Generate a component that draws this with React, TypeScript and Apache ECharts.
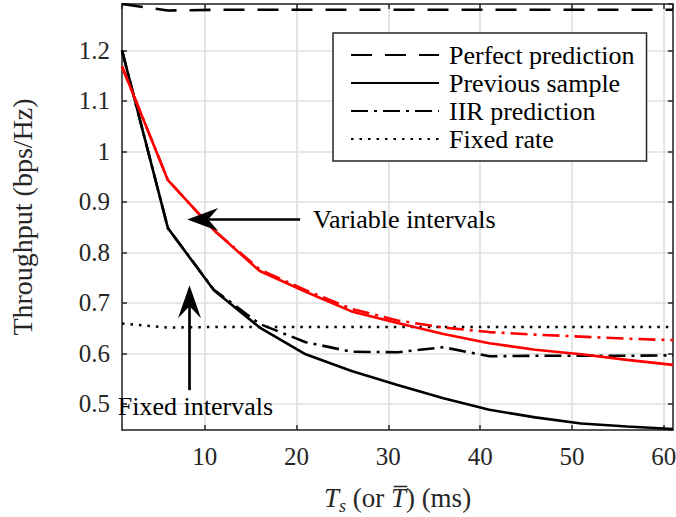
import React, { useEffect, useRef } from 'react';
import * as echarts from 'echarts';

// Sampling period T_s (or mean interval) in ms
const tsValues = [1, 6, 11, 16, 21, 26, 31, 36, 41, 46, 51, 56, 61];

// Fixed intervals (black)
const perfectPrediction = [1.292, 1.279, 1.2805, 1.2805, 1.2805, 1.2805, 1.2805, 1.2805, 1.2805, 1.2805, 1.2805, 1.2805, 1.2805];
const previousSample = [1.2, 0.848, 0.725, 0.651, 0.598, 0.565, 0.537, 0.511, 0.488, 0.473, 0.461, 0.455, 0.45];
const iirPrediction = [1.2, 0.848, 0.726, 0.658, 0.622, 0.603, 0.602, 0.612, 0.594, 0.595, 0.595, 0.595, 0.596];
const fixedRate = [0.659, 0.651, 0.652, 0.652, 0.652, 0.652, 0.652, 0.652, 0.652, 0.652, 0.652, 0.652, 0.652];

// Variable intervals (red)
const varPreviousSample = [1.168, 0.943, 0.844, 0.763, 0.722, 0.683, 0.66, 0.638, 0.62, 0.607, 0.598, 0.587, 0.577];
const varIirPrediction = [1.168, 0.943, 0.844, 0.766, 0.725, 0.688, 0.665, 0.651, 0.642, 0.637, 0.633, 0.629, 0.626];

const legendNames = ['Perfect prediction', 'Previous sample', 'IIR prediction', 'Fixed rate'];

// Annotation anchors (data coordinates)
const variableArrowTail = [20.4, 0.865];
const variableArrowTip = [8.1, 0.865];
const variableLabelPos = [21.8, 0.865];
const fixedArrowTail = [8.35, 0.527];
const fixedArrowTip = [8.35, 0.735];
const fixedLabelPos = [0.55, 0.494];

const X_MIN = 1;
const X_MAX = 61;
const Y_MIN = 0.448;
const Y_MAX = 1.292;

const FONT = 'Liberation Serif';
const AXIS_COLOR = '#262626';

export default function App() {
  const ref = useRef<HTMLDivElement>(null);

  useEffect(() => {
    document.body.style.margin = '0';
    const chart = echarts.init(ref.current!, null, { renderer: 'svg' });
    const pair = (ys: number[]) => tsValues.map((x, i) => [x, ys[i]]);
    const mk = (name: string, ys: number[], color: string, type: any, width: number, z: number) => ({
      type: 'line',
      name,
      data: pair(ys),
      symbol: 'none',
      silent: true,
      z,
      lineStyle: { color, type, width, cap: 'butt' },
      itemStyle: { color },
    });

    const isMultiple = (v: number, step: number) => {
      const r = Math.round(v / step) * step;
      return Math.abs(v - r) < 1e-6;
    };

    chart.setOption({
      animation: false,
      backgroundColor: '#ffffff',
      grid: { left: 122, top: 4, right: 3, bottom: 87, outerBoundsMode: 'none', containLabel: false },
      xAxis: [
        {
          type: 'value',
          min: X_MIN,
          max: X_MAX,
          position: 'bottom',
          name: '{i|T}{s|s} (or {i|T\u0305}) (ms)',
          nameLocation: 'middle',
          nameGap: 51,
          nameTextStyle: {
            fontFamily: FONT,
            fontSize: 27,
            color: AXIS_COLOR,
            lineHeight: 34,
            rich: {
              i: { fontFamily: FONT, fontSize: 27, fontStyle: 'italic', color: AXIS_COLOR, verticalAlign: 'middle' },
              s: { fontFamily: FONT, fontSize: 18, fontStyle: 'italic', color: AXIS_COLOR, verticalAlign: 'bottom' },
            },
          },
          axisLine: { show: true, onZero: false, lineStyle: { color: AXIS_COLOR, width: 1.5 } },
          axisTick: { show: true, inside: true, length: 5, lineStyle: { color: AXIS_COLOR, width: 1.5 } },
          axisLabel: {
            show: true,
            margin: 14,
            fontFamily: FONT,
            fontSize: 25,
            color: AXIS_COLOR,
            showMinLabel: false,
            showMaxLabel: false,
            formatter: (v: number) => (isMultiple(v, 10) ? String(Math.round(v)) : ''),
          },
          splitLine: { show: true, lineStyle: { color: '#e1e1e1', width: 1.7 } },
        },
        {
          type: 'value',
          min: X_MIN,
          max: X_MAX,
          position: 'top',
          axisLine: { show: true, onZero: false, lineStyle: { color: AXIS_COLOR, width: 1.5 } },
          axisTick: { show: true, inside: true, length: 5, lineStyle: { color: AXIS_COLOR, width: 1.5 } },
          axisLabel: { show: false },
          splitLine: { show: false },
        },
      ],
      yAxis: [
        {
          type: 'value',
          min: Y_MIN,
          max: Y_MAX,
          splitNumber: 8,
          position: 'left',
          name: 'Throughput (bps/Hz)',
          nameLocation: 'middle',
          nameGap: 86,
          nameTextStyle: { fontFamily: FONT, fontSize: 28, color: AXIS_COLOR },
          axisLine: { show: true, onZero: false, lineStyle: { color: AXIS_COLOR, width: 1.5 } },
          axisTick: { show: true, inside: true, length: 5, lineStyle: { color: AXIS_COLOR, width: 1.5 } },
          axisLabel: {
            show: true,
            margin: 12,
            fontFamily: FONT,
            fontSize: 25,
            color: AXIS_COLOR,
            showMinLabel: false,
            showMaxLabel: false,
            formatter: (v: number) => (isMultiple(v, 0.1) ? String(Math.round(v * 10) / 10) : ''),
          },
          splitLine: { show: true, lineStyle: { color: '#e1e1e1', width: 1.7 } },
        },
        {
          type: 'value',
          min: Y_MIN,
          max: Y_MAX,
          splitNumber: 8,
          position: 'right',
          axisLine: { show: true, onZero: false, lineStyle: { color: AXIS_COLOR, width: 1.5 } },
          axisTick: { show: true, inside: true, length: 5, lineStyle: { color: AXIS_COLOR, width: 1.5 } },
          axisLabel: { show: false },
          splitLine: { show: false },
        },
      ],
      legend: {
        data: legendNames,
        orient: 'vertical',
        left: 333,
        top: 33,
        itemWidth: 88,
        itemHeight: 12,
        itemGap: 2,
        padding: [9, 12, 9, 17],
        borderColor: AXIS_COLOR,
        borderWidth: 1.5,
        backgroundColor: '#ffffff',
        selectedMode: false,
        itemStyle: { opacity: 0 },
        textStyle: { fontFamily: FONT, fontSize: 26, color: '#000', padding: [0, 0, 0, 5] },
      },
      series: [
        mk('Fixed rate', fixedRate, '#000', [2.5, 6], 2.5, 2),
        mk('Perfect prediction', perfectPrediction, '#000', [21, 13], 2.6, 3),
        mk('IIR prediction', iirPrediction, '#000', [17, 6, 3, 6], 2.6, 3),
        mk('Previous sample', previousSample, '#000', 'solid', 2.6, 4),
        mk('Variable: IIR prediction', varIirPrediction, '#ff0000', [17, 6, 3, 6], 2.6, 5),
        mk('Variable: Previous sample', varPreviousSample, '#ff0000', 'solid', 2.6, 5),
      ],
    });

    const px = (p: number[]) => chart.convertToPixel({ xAxisIndex: 0, yAxisIndex: 0 }, p) as number[];
    const vTail = px(variableArrowTail);
    const vTip = px(variableArrowTip);
    const vLab = px(variableLabelPos);
    const fTail = px(fixedArrowTail);
    const fTip = px(fixedArrowTip);
    const fLab = px(fixedLabelPos);
    const headLen = 31;
    const headHalf = 11.5;
    const notch = 21;
    const textFont = `26px "${FONT}", serif`;

    chart.setOption({
      graphic: [
        {
          type: 'line',
          shape: { x1: vTail[0], y1: vTail[1], x2: vTip[0] + notch, y2: vTip[1] },
          style: { stroke: '#000', lineWidth: 2.3 },
          z: 100,
        },
        {
          type: 'polygon',
          shape: {
            points: [
              [vTip[0], vTip[1]],
              [vTip[0] + headLen, vTip[1] - headHalf],
              [vTip[0] + notch, vTip[1]],
              [vTip[0] + headLen, vTip[1] + headHalf],
            ],
          },
          style: { fill: '#000' },
          z: 100,
        },
        {
          type: 'text',
          x: vLab[0],
          y: vLab[1],
          style: { text: 'Variable intervals', font: textFont, fill: '#000', align: 'left', verticalAlign: 'middle' },
          z: 100,
        },
        {
          type: 'line',
          shape: { x1: fTail[0], y1: fTail[1], x2: fTip[0], y2: fTip[1] + notch },
          style: { stroke: '#000', lineWidth: 2.7 },
          z: 100,
        },
        {
          type: 'polygon',
          shape: {
            points: [
              [fTip[0], fTip[1]],
              [fTip[0] + headHalf, fTip[1] + headLen + 2],
              [fTip[0], fTip[1] + notch],
              [fTip[0] - headHalf, fTip[1] + headLen + 2],
            ],
          },
          style: { fill: '#000' },
          z: 100,
        },
        {
          type: 'text',
          x: fLab[0],
          y: fLab[1],
          style: { text: 'Fixed intervals', font: textFont, fill: '#000', align: 'left', verticalAlign: 'middle' },
          z: 100,
        },
      ],
    });

    return () => {
      chart.dispose();
    };
  }, []);

  return <div ref={ref} style={{ width: 676, height: 517 }} />;
}
